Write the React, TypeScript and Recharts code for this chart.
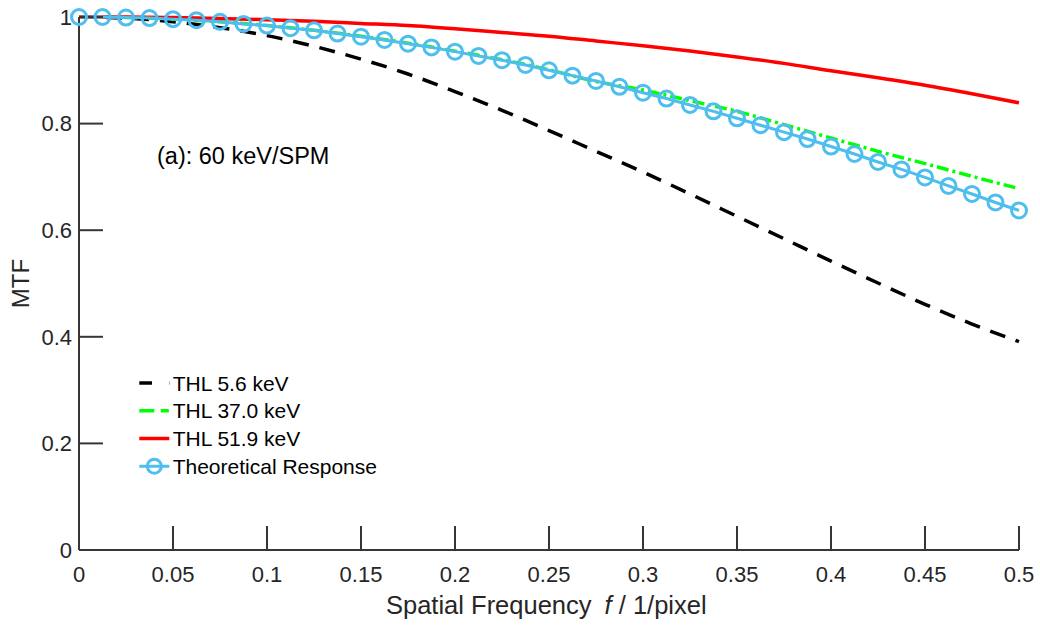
import React from 'react';
import { LineChart, Line, XAxis, YAxis, Customized } from 'recharts';

const FONT = '"Liberation Sans", Arial, Helvetica, sans-serif';
const AXIS_COLOR = '#363636';

// Spatial frequency grids (1/pixel)
const freqFine = [
  0, 0.0125, 0.025, 0.0375, 0.05, 0.0625, 0.075, 0.0875, 0.1, 0.1125,
  0.125, 0.1375, 0.15, 0.1625, 0.175, 0.1875, 0.2, 0.2125, 0.225, 0.2375,
  0.25, 0.2625, 0.275, 0.2875, 0.3, 0.3125, 0.325, 0.3375, 0.35, 0.3625,
  0.375, 0.3875, 0.4, 0.4125, 0.425, 0.4375, 0.45, 0.4625, 0.475, 0.4875, 0.5,
];
const freqCoarse = [
  0, 0.025, 0.05, 0.075, 0.1, 0.125, 0.15, 0.175, 0.2, 0.225, 0.25,
  0.275, 0.3, 0.325, 0.35, 0.375, 0.4, 0.425, 0.45, 0.475, 0.5,
];

// Theoretical Response (circles)
const theoretical = [
  1.0, 1.0, 0.999, 0.998, 0.996, 0.994, 0.991, 0.987, 0.984, 0.979,
  0.975, 0.969, 0.963, 0.957, 0.95, 0.943, 0.935, 0.927, 0.919, 0.91,
  0.9, 0.89, 0.88, 0.869, 0.858, 0.847, 0.835, 0.823, 0.81, 0.797,
  0.784, 0.771, 0.757, 0.743, 0.728, 0.714, 0.699, 0.683, 0.668, 0.652, 0.637,
];
// THL 5.6 keV (black dashed)
const thl56 = [
  1.0, 0.998, 0.991, 0.98, 0.965, 0.945, 0.921, 0.893, 0.86, 0.825, 0.787,
  0.748, 0.709, 0.668, 0.626, 0.584, 0.542, 0.501, 0.461, 0.424, 0.391,
];
// THL 37.0 keV (green dash-dot)
const thl370 = [
  1.0, 0.999, 0.996, 0.991, 0.984, 0.975, 0.964, 0.951, 0.936, 0.92, 0.901,
  0.879, 0.863, 0.843, 0.823, 0.798, 0.773, 0.748, 0.725, 0.701, 0.678,
];
// THL 51.9 keV (red solid)
const thl519 = [
  1.0, 1.0, 0.999, 0.997, 0.995, 0.992, 0.988, 0.984, 0.978, 0.971, 0.964,
  0.955, 0.946, 0.936, 0.925, 0.913, 0.899, 0.886, 0.872, 0.856, 0.839,
];

const xTicks = [0, 0.05, 0.1, 0.15, 0.2, 0.25, 0.3, 0.35, 0.4, 0.45, 0.5];
const xTickLabels = ['0', '0.05', '0.1', '0.15', '0.2', '0.25', '0.3', '0.35', '0.4', '0.45', '0.5'];
const yTicks = [0, 0.2, 0.4, 0.6, 0.8, 1];
const yTickLabels = ['0', '0.2', '0.4', '0.6', '0.8', '1'];

const seriesNames = ['THL 5.6 keV', 'THL 37.0 keV', 'THL 51.9 keV', 'Theoretical Response'];
const seriesColors = ['#000000', '#00FF00', '#FF0000', '#4DBEEE'];

const dataThl56 = freqCoarse.map((f, i) => ({ f, v: thl56[i] }));
const dataThl370 = freqCoarse.map((f, i) => ({ f, v: thl370[i] }));
const dataThl519 = freqCoarse.map((f, i) => ({ f, v: thl519[i] }));
const dataTheory = freqFine.map((f, i) => ({ f, v: theoretical[i] }));

const legendDash = ['12.7 17 1', '15 6.5 8', undefined, undefined];

function Overlay() {
  return (
    <g fontFamily={FONT}>
      <text x={157} y={164} fontSize={23.5} fill="#000">(a): 60 keV/SPM</text>
      {seriesNames.map((name, i) => {
        const cy = 383 + i * 27.75;
        return (
          <g key={name}>
            <line
              x1={139.3}
              x2={169.3}
              y1={cy}
              y2={cy}
              stroke={seriesColors[i]}
              strokeWidth={i === 3 ? 3 : 3.5}
              strokeDasharray={legendDash[i]}
            />
            {i === 3 && (
              <circle cx={154.3} cy={cy} r={7} fill="none" stroke={seriesColors[i]} strokeWidth={3} />
            )}
            <text x={172.7} y={cy + 7.5} fontSize={21} fill="#000">{name}</text>
          </g>
        );
      })}
      <text x={386} y={614} fontSize={25.5} fill="#262626">
        Spatial Frequency
        <tspan dx={13} fontStyle="italic">f</tspan>
        <tspan> / 1/pixel</tspan>
      </text>
      <text
        x={28.5}
        y={283.5}
        fontSize={24}
        fill="#262626"
        textAnchor="middle"
        transform="rotate(-90 28.5 283.5)"
      >
        MTF
      </text>
    </g>
  );
}

export default function App() {
  const tickStyle = { fontSize: 22, fill: '#262626', fontFamily: FONT };
  const axisLine = { stroke: AXIS_COLOR, strokeWidth: 2 };
  const tickLine = { stroke: AXIS_COLOR, strokeWidth: 2 };
  return (
    <div style={{ position: 'absolute', left: 0, top: 0, width: 1040, height: 626, background: '#fff' }}>
      <LineChart width={1040} height={626} margin={{ top: 17, right: 21, bottom: 0, left: 0 }}>
        <XAxis
          dataKey="f"
          type="number"
          domain={[0, 0.5]}
          ticks={xTicks}
          interval={0}
          height={76}
          tickFormatter={(v: number) => xTickLabels[xTicks.indexOf(v)] ?? String(v)}
          tick={tickStyle}
          tickSize={-24}
          tickMargin={40}
          axisLine={axisLine}
          tickLine={tickLine}
        />
        <XAxis
          xAxisId="top"
          orientation="top"
          type="number"
          domain={[0, 0.5]}
          allowDataOverflow
          ticks={xTicks}
          interval={0}
          height={0}
          tick={false}
          tickSize={-24}
          axisLine={axisLine}
          tickLine={tickLine}
        />
        <YAxis
          type="number"
          domain={[0, 1]}
          ticks={yTicks}
          interval={0}
          width={79}
          tickFormatter={(v: number) => yTickLabels[yTicks.indexOf(v)] ?? String(v)}
          tick={tickStyle}
          tickSize={-24}
          tickMargin={31}
          axisLine={axisLine}
          tickLine={tickLine}
        />
        <YAxis
          yAxisId="right"
          orientation="right"
          type="number"
          domain={[0, 1]}
          allowDataOverflow
          ticks={yTicks}
          interval={0}
          width={0}
          tick={false}
          tickSize={-24}
          axisLine={axisLine}
          tickLine={tickLine}
        />
        <Line
          data={dataThl56}
          dataKey="v"
          name={seriesNames[0]}
          type="monotone"
          stroke={seriesColors[0]}
          strokeWidth={3.5}
          strokeDasharray="16 11"
          dot={false}
          activeDot={false}
          isAnimationActive={false}
        />
        <Line
          data={dataThl370}
          dataKey="v"
          name={seriesNames[1]}
          type="monotone"
          stroke={seriesColors[1]}
          strokeWidth={3.5}
          strokeDasharray="12 4 3 4"
          dot={false}
          activeDot={false}
          isAnimationActive={false}
        />
        <Line
          data={dataThl519}
          dataKey="v"
          name={seriesNames[2]}
          type="monotone"
          stroke={seriesColors[2]}
          strokeWidth={3.5}
          dot={false}
          activeDot={false}
          isAnimationActive={false}
        />
        <Line
          data={dataTheory}
          dataKey="v"
          name={seriesNames[3]}
          type="linear"
          stroke={seriesColors[3]}
          strokeWidth={3}
          dot={{ r: 7.5, stroke: seriesColors[3], strokeWidth: 3, fill: 'none' }}
          activeDot={false}
          isAnimationActive={false}
        />
        <Customized component={<Overlay />} />
      </LineChart>
    </div>
  );
}
